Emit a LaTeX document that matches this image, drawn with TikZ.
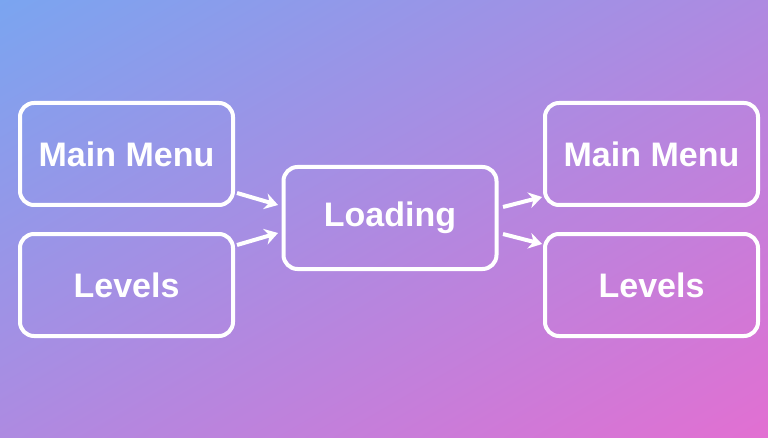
\documentclass[tikz,border=0pt]{standalone}
\usepackage{fontspec}
\setmainfont{Liberation Sans}
\usetikzlibrary{arrows.meta}
\tikzset{
 box/.style={draw=white,line width=4pt,rounded corners=14pt,minimum width=213pt,minimum height=102pt,inner sep=0pt,text=white,font=\bfseries\fontsize{34}{38}\selectfont},
 arr/.style={draw=white,line width=4pt,-{Stealth[length=13pt,width=16pt]}}
}
\begin{document}
\begin{tikzpicture}[x=1pt,y=1pt]
\useasboundingbox (0,0) rectangle (768,437);
\shade[top color={rgb,255:red,116;green,168;blue,242}, bottom color={rgb,255:red,232;green,108;blue,208}, shading angle=30] (-150,-150) rectangle (918,587);
\node[box] (mm1) at (126.5,283) {Main Menu};
\node[box] (lv1) at (126.5,152) {Levels};
\node[box] (ld) at (390,219) {Loading};
\node[box] (mm2) at (651.5,283) {Main Menu};
\node[box] (lv2) at (651.5,152) {Levels};
\coordinate (a1) at (237,244); \coordinate (b1) at (278,232);
\coordinate (a2) at (237,192); \coordinate (b2) at (278,204);
\coordinate (a3) at (503,230); \coordinate (b3) at (542,240);
\coordinate (a4) at (503,203); \coordinate (b4) at (542,193);
\draw[arr] (a1) -- (b1);
\draw[arr] (a2) -- (b2);
\draw[arr] (a3) -- (b3);
\draw[arr] (a4) -- (b4);
\end{tikzpicture}
\end{document}
